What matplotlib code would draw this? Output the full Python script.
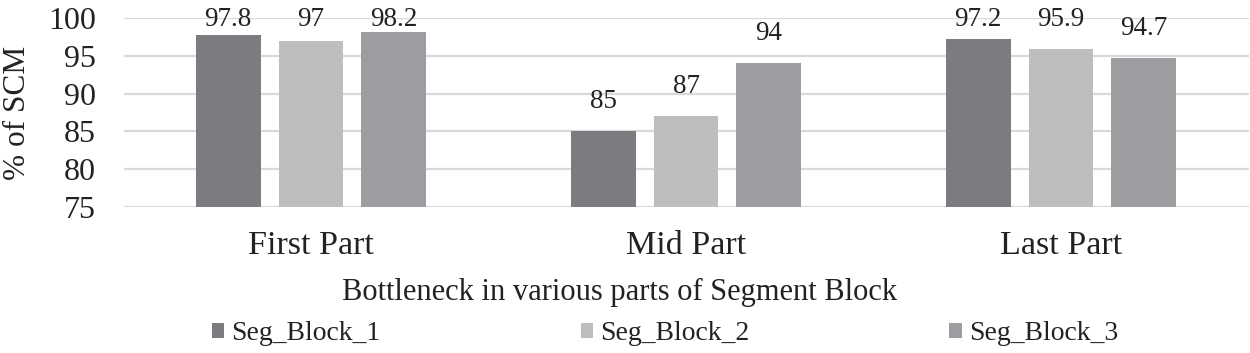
import matplotlib
matplotlib.use("Agg")
import matplotlib.pyplot as plt
from matplotlib.patches import Patch
import numpy as np

categories = ["First Part", "Mid Part", "Last Part"]
series_names = ["Seg_Block_1", "Seg_Block_2", "Seg_Block_3"]
seg1 = [97.8, 85, 97.2]
seg2 = [97, 87, 95.9]
seg3 = [98.2, 94, 94.7]
colors = ["#7b7c7f", "#bdbec0", "#9c9da0"]
yticks = [75, 80, 85, 90, 95, 100]

plt.rcParams['font.family'] = ['Liberation Serif', 'DejaVu Serif']

fig = plt.figure(figsize=(12.5, 3.53), dpi=100)
ax = fig.add_axes([123.5/1250, 1-207/353, 1125/1250, (207-18)/353])

x = np.arange(len(categories))
width = 0.173
offsets = [-0.221, 0, 0.221]
label_gap = 3.9      # data units from bar top to label centre
label_max = 99.75    # labels are kept inside the plot area
for vals, off, c, name in zip([seg1, seg2, seg3], offsets, colors, series_names):
    ax.bar(x + off, np.array(vals) - 75, width, bottom=75, color=c, label=name, zorder=3)
    for xi, v in zip(x + off, vals):
        ax.text(xi, min(v + label_gap, label_max), f"{v:g}",
                ha="center", va="center", fontsize=19.5, color="#222222", zorder=4)

ax.set_xlim(-0.5, 2.5)
ax.set_ylim(75, 100)
ax.set_yticks(yticks)
ax.set_yticklabels([str(t) for t in yticks], fontsize=23)
ax.set_xticks(x)
ax.set_xticklabels(categories, fontsize=24.5)
ax.tick_params(axis='both', length=0, colors="#222222")
ax.tick_params(axis='y', pad=20)
ax.tick_params(axis='x', pad=17)
ax.yaxis.grid(True, color="#d9d9d9", linewidth=1.6, zorder=0)
ax.set_axisbelow(True)
for s in ax.spines.values():
    s.set_visible(False)
for lbl in ax.get_yticklabels() + ax.get_xticklabels():
    lbl.set_color("#222222")

ax.set_ylabel("% of SCM", fontsize=22.5, color="#222222")
ax.yaxis.set_label_coords(-91/1125, 0.5)
fig.text(620/1250, 1-292/353, "Bottleneck in various parts of Segment Block",
         ha="center", va="center", fontsize=22, color="#222222")

handles = [Patch(facecolor=c, edgecolor='none') for c in colors]
leg = fig.legend(handles, series_names, loc="center", bbox_to_anchor=(665/1250, 1-334/353),
                 ncol=3, frameon=False, fontsize=20, handlelength=0.45, handleheight=0.45,
                 handletextpad=0.25, columnspacing=7.2, borderaxespad=0)
for t in leg.get_texts():
    t.set_color("#222222")

fig.savefig("out.png", dpi=100)
